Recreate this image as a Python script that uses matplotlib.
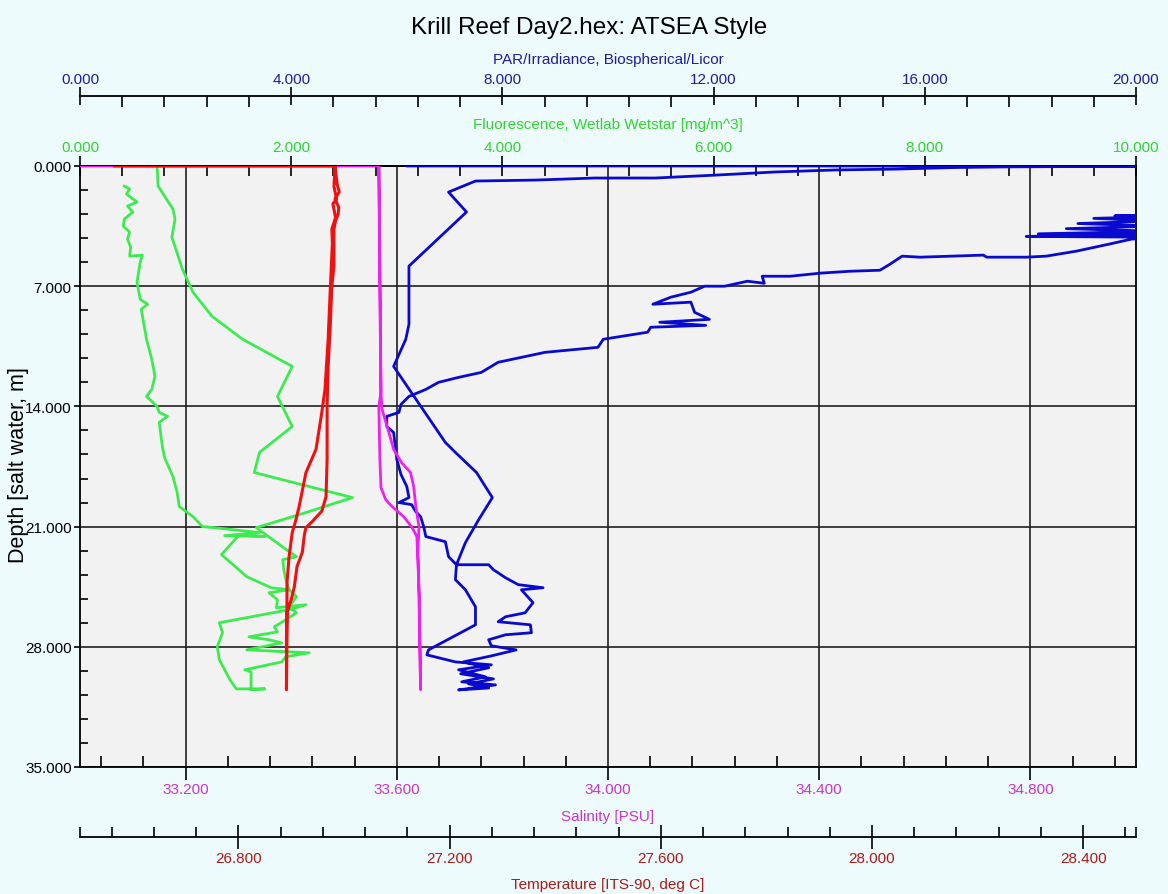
import numpy as np
import matplotlib
matplotlib.use('Agg')
import matplotlib.pyplot as plt
from matplotlib import font_manager
from matplotlib.ticker import FixedLocator, FormatStrFormatter

# ---- data (depth in m) ----
temp_depth = [0, 0, 1.05, 1.5, 1.93, 2.4, 2.8, 3.2, 3.67, 5.83, 7.0, 9.33, 11.67, 14.0, 17.09,
              19.25, 20.1, 20.7, 21.06, 21.47, 22.5, 23.33, 24.5, 25.26, 25.84, 26.0, 27.6,
              30.5, 27.6, 26.0, 24.27, 22.75, 21.35, 20.6, 19.83, 17.85, 16.5, 14.35, 13.0,
              10.1, 7.2, 4.5, 3.67, 3.0, 2.2, 1.93, 1.2, 0]
temp_vals = [26.566, 26.983, 26.987, 26.991, 26.983, 26.990, 26.989, 26.984, 26.981, 26.981,
             26.977, 26.974, 26.970, 26.968, 26.968, 26.966, 26.958, 26.940, 26.928, 26.925,
             26.921, 26.911, 26.906, 26.900, 26.894, 26.892, 26.891, 26.891, 26.892, 26.892,
             26.892, 26.896, 26.902, 26.909, 26.915, 26.928, 26.947, 26.958, 26.964, 26.970,
             26.974, 26.978, 26.977, 26.984, 26.979, 26.986, 26.981, 26.983]

sal_depth = [0, 0, 5.43, 13.18, 14.0, 17.09, 18.73, 19.43, 19.83, 20.42, 21.0, 21.58, 22.93,
             25.26, 30.5, 25.26, 22.5, 21.0, 19.83, 18.67, 17.85, 17.27, 16.5, 15.52, 14.17,
             13.18, 7.76, 0]
sal_vals = [33.0, 33.566, 33.568, 33.570, 33.566, 33.568, 33.570, 33.579, 33.591, 33.613,
            33.628, 33.638, 33.640, 33.643, 33.645, 33.642, 33.640, 33.642, 33.636, 33.632,
            33.626, 33.609, 33.594, 33.585, 33.572, 33.570, 33.568, 33.566]

fl_depth = [1.17, 1.34, 1.63, 2.1, 2.33, 2.68, 3.09, 3.5, 3.85, 4.26, 4.73, 5.25, 5.19, 5.6,
            6.77, 7.76, 8.05, 8.34, 10.09, 11.26, 12.25, 13.0, 13.42, 14.0, 14.35, 14.58, 14.93,
            16.33, 16.97, 18.08, 19.02, 19.83, 20.42, 21.0, 21.06, 21.35, 21.53, 21.58, 21.47,
            22.63, 23.92, 24.56, 24.68, 24.85, 25.26, 25.73, 25.55, 25.84, 26.6, 27.18, 28.0,
            28.76, 29.92, 30.45, 30.45,
            30.5, 29.46, 29.34, 28.88, 28.58, 28.35, 28.18, 27.77, 27.59, 27.42, 27.13, 26.83,
            26.54, 26.02, 25.67, 25.08, 24.68, 24.09, 23.51, 22.93, 22.75, 22.46, 21.06, 20.18,
            19.31, 17.85, 16.68, 15.17, 13.42, 11.67, 10.09, 8.75, 7.35, 6.01, 4.14, 3.09, 2.51,
            1.17, 0]
fl_vals = [0.42, 0.47, 0.44, 0.54, 0.45, 0.50, 0.42, 0.41, 0.47, 0.45, 0.48, 0.47, 0.59, 0.57,
           0.54, 0.57, 0.64, 0.58, 0.63, 0.68, 0.71, 0.68, 0.63, 0.73, 0.75, 0.83, 0.75, 0.78,
           0.80, 0.88, 0.92, 0.94, 1.07, 1.16, 1.27, 1.70, 1.37, 1.75, 1.51, 1.34, 1.58, 1.81,
           1.98, 1.79, 1.87, 1.86, 2.14, 1.98, 1.32, 1.35, 1.30, 1.32, 1.42, 1.48, 1.75,
           1.62, 1.62, 1.56, 1.91, 1.95, 2.17, 1.58, 1.91, 1.79, 1.60, 1.87, 1.84, 1.92, 2.05,
           1.98, 2.05, 1.98, 1.95, 1.93, 1.92, 2.05, 1.98, 1.67, 2.14, 2.58, 1.65, 1.70, 2.01,
           1.87, 2.01, 1.54, 1.25, 1.07, 0.97, 0.87, 0.90, 0.88, 0.74, 0.73]

par_depth = [0, 0.05, 0.09, 0.18, 0.23, 0.35, 0.53, 0.70, 0.70, 0.82, 0.875, 1.52, 2.68, 5.83,
             9.22, 10.09, 11.67, 16.1, 16.68, 17.85, 19.31, 20.6, 21.93, 23.22, 24.09, 24.68,
             25.67, 26.72, 28.18, 28.47, 28.88, 29.05, 29.34, 29.75, 30.04, 30.22, 30.51,
             30.4, 30.16, 29.87, 29.57, 29.22, 28.88, 28.53, 28.18, 27.94, 27.59, 27.30, 27.18,
             26.72, 26.54, 26.25, 26.02, 25.43, 24.68, 24.56, 24.38, 23.98, 23.51, 23.22, 23.22,
             22.75, 21.88, 21.58, 21.0, 20.42, 20.13, 19.72, 19.6, 19.31, 18.67, 17.97, 17.09,
             15.52, 15.17, 14.58, 14.35, 13.88, 13.42, 13.01, 12.6, 12.31, 12.02, 11.43, 10.85,
             10.56, 10.09, 9.68, 9.39, 9.28, 9.1, 8.93, 8.52, 7.93, 8.05, 7.64, 7.35, 7.0, 7.0,
             6.71, 6.83, 6.42, 6.42, 6.24, 6.13, 6.07, 5.72, 5.25, 5.31, 5.19, 5.31, 5.31, 5.25,
             4.96, 4.55, 4.26, 4.15, 4.1, 4.0, 3.95, 3.8, 3.65, 3.5, 3.35, 3.2, 3.05, 2.95, 2.9,
             2.8, 0, 0]
par_vals = [21.0, 17.6, 16.55, 15.45, 14.32, 13.15, 12.04, 10.89, 9.75, 8.62, 7.49, 6.98, 7.32,
            6.23, 6.23, 6.17, 5.94, 6.92, 7.11, 7.51, 7.81, 7.55, 7.30, 7.13, 7.11, 7.30, 7.49,
            7.49, 6.60, 6.57, 7.11, 7.79, 7.17, 7.68, 7.23, 7.87, 7.17,
            7.74, 7.36, 7.83, 7.21, 7.74, 7.26, 7.79, 8.26, 7.79, 7.74, 8.06, 8.55, 8.53, 7.92,
            8.06, 8.43, 8.58, 8.36, 8.77, 8.30, 8.06, 7.83, 7.74, 7.13, 6.98, 6.92, 6.55, 6.51,
            6.45, 6.36, 6.28, 6.04, 6.23, 6.19, 6.08, 6.00, 5.94, 5.81, 5.81, 6.04, 6.08, 6.23,
            6.55, 6.79, 7.17, 7.60, 7.92, 8.81, 9.81, 9.91, 10.75, 10.81, 11.85, 10.98, 11.92,
            11.64, 11.57, 10.85, 11.19, 11.57, 11.83, 12.21, 12.64, 12.96, 12.92, 13.45, 14.02,
            14.58, 15.15, 15.34, 15.57, 15.91, 17.11, 17.17, 17.92, 18.30, 18.87, 19.49, 19.91,
            20.4, 17.92, 20.4, 18.15, 20.4, 18.68, 20.4, 18.9, 20.4, 19.2, 20.4, 19.6, 21.0,
            21.0, 6.2]

sal_major = [33.2, 33.6, 34.0, 34.4, 34.8]
temp_major = [26.8, 27.2, 27.6, 28.0, 28.4]
depth_major = [0, 7, 14, 21, 28, 35]


def pick_font(names, default):
    for n in names:
        try:
            font_manager.findfont(n, fallback_to_default=False)
            return n
        except ValueError:
            pass
    return default


NARROW = pick_font(['Liberation Sans Narrow', 'Arial Narrow'], None)
REGULAR = pick_font(['Liberation Sans', 'Arial'], 'DejaVu Sans')
if NARROW is None:
    NARROW, FS, TS = REGULAR, 11, 17.5
else:
    FS, TS = 12, 20
plt.rcParams['font.family'] = [NARROW, 'DejaVu Sans']

BG = '#EEFBFC'
PAR_C = '#1C1CA8'
FL_C = '#2FD62F'
SAL_C = '#CC33CC'
TMP_C = '#B01818'

fig = plt.figure(figsize=(11.68, 8.95), dpi=100, facecolor=BG)
ax = fig.add_axes([80 / 1168, 1 - 768 / 895, 1056 / 1168, 601 / 895])
ax.set_facecolor('#F2F2F2')
ax.set_xlim(33.0, 35.0)
ax.set_ylim(35, 0)

ax_f = ax.twiny()   # fluorescence, top
ax_p = ax.twiny()   # PAR, top, offset
ax_s = ax.twiny()   # salinity line only (keeps it above blue)
ax_t = ax.twiny()   # temperature, bottom, offset

for a in (ax_f, ax_p, ax_s, ax_t):
    for sp in a.spines.values():
        sp.set_visible(False)

for sp in ax.spines.values():
    sp.set_linewidth(1.3)
    sp.set_color('black')

# grid + salinity / depth axis
ax.grid(True, which='major', color='#202020', linewidth=1.2)
ax.set_axisbelow(True)
ax.xaxis.set_major_locator(FixedLocator(sal_major))
ax.xaxis.set_minor_locator(FixedLocator(np.round(np.arange(33.04, 35.0, 0.08), 3)))
ax.xaxis.set_major_formatter(FormatStrFormatter('%.3f'))
ax.yaxis.set_major_locator(FixedLocator(depth_major))
ax.yaxis.set_minor_locator(FixedLocator(np.round(np.arange(0, 35.01, 1.4), 2)))
ax.yaxis.set_major_formatter(FormatStrFormatter('%.3f'))
ax.tick_params(axis='x', which='major', direction='out', length=9, width=1.2, pad=1.5,
               labelsize=FS, labelcolor=SAL_C)
ax.tick_params(axis='x', which='minor', direction='in', length=8, width=1.2)
ax.tick_params(axis='y', which='major', direction='out', length=4, width=1.2, pad=2,
               labelsize=FS, labelcolor='black')
ax.tick_params(axis='y', which='minor', direction='in', length=6, width=1.2)
ax.set_xlabel('Salinity [PSU]', color=SAL_C, fontsize=FS, va='center')
ax.xaxis.set_label_coords(0.5, -0.0815)
ax.set_ylabel('Depth [salt water, m]', fontsize=15.5, family=REGULAR, va='center')
ax.yaxis.set_label_coords(-0.0587, 0.504)

# fluorescence axis on plot top
ax_f.set_xlim(0, 10)
ax_f.spines['top'].set_visible(True)
ax_f.spines['top'].set_linewidth(1.3)
ax_f.xaxis.set_major_locator(FixedLocator([0, 2, 4, 6, 8, 10]))
ax_f.xaxis.set_minor_locator(FixedLocator(np.round(np.arange(0, 10.01, 0.4), 2)))
ax_f.xaxis.set_major_formatter(FormatStrFormatter('%.3f'))
ax_f.tick_params(axis='x', which='major', direction='inout', length=15, width=1.2, pad=1.5,
                 labelsize=FS, labelcolor=FL_C)
ax_f.tick_params(axis='x', which='minor', direction='in', length=7, width=1.2)
ax_f.set_xlabel('Fluorescence, Wetlab Wetstar [mg/m^3]', color=FL_C, fontsize=FS, va='center')
ax_f.xaxis.set_label_coords(0.5, 1.07)

# PAR axis above
ax_p.set_xlim(0, 20)
ax_p.spines['top'].set_visible(True)
ax_p.spines['top'].set_linewidth(1.3)
ax_p.spines['top'].set_position(('outward', 50.4))
ax_p.xaxis.set_major_locator(FixedLocator([0, 4, 8, 12, 16, 20]))
ax_p.xaxis.set_minor_locator(FixedLocator(np.round(np.arange(0, 20.01, 0.8), 2)))
ax_p.xaxis.set_major_formatter(FormatStrFormatter('%.3f'))
ax_p.tick_params(axis='x', which='major', direction='inout', length=13, width=1.2, pad=1,
                 labelsize=FS, labelcolor=PAR_C)
ax_p.tick_params(axis='x', which='minor', direction='in', length=8, width=1.2)
ax_p.set_xlabel('PAR/Irradiance, Biospherical/Licor', color=PAR_C, fontsize=FS, va='center')
ax_p.xaxis.set_label_coords(0.5, 1.178)

# salinity twin: same scale, no axis drawn
ax_s.set_xlim(33.0, 35.0)
ax_s.xaxis.set_visible(False)

# temperature axis below
ax_t.set_xlim(26.5, 28.5)
ax_t.xaxis.set_ticks_position('bottom')
ax_t.xaxis.set_label_position('bottom')
ax_t.spines['bottom'].set_visible(True)
ax_t.spines['bottom'].set_linewidth(1.3)
ax_t.spines['bottom'].set_position(('outward', 50.4))
ax_t.xaxis.set_major_locator(FixedLocator(temp_major))
t_minor = list(np.round(np.arange(26.56, 28.49, 0.08), 3)) + [26.5, 28.5]
ax_t.xaxis.set_minor_locator(FixedLocator(t_minor))
ax_t.xaxis.set_major_formatter(FormatStrFormatter('%.3f'))
ax_t.tick_params(axis='x', which='major', direction='inout', length=17, width=1.2, pad=1.5,
                 labelsize=FS, labelcolor=TMP_C)
ax_t.tick_params(axis='x', which='minor', direction='in', length=7, width=1.2)
ax_t.set_xlabel('Temperature [ITS-90, deg C]', color=TMP_C, fontsize=FS, va='center')
ax_t.xaxis.set_label_coords(0.5, -0.1947)

# profiles
ax_f.plot(fl_vals, fl_depth, color='#3DEB50', linewidth=2.0)
ax_p.plot(par_vals, par_depth, color='#0A0ACF', linewidth=2.0)
ax_s.plot(sal_vals, sal_depth, color='#EE22EE', linewidth=2.0)
ax_t.plot(temp_vals, temp_depth, color='#EE1111', linewidth=2.2)
ax_s.set_ylim(35, 0)

fig.suptitle('Krill Reef Day2.hex: ATSEA Style', x=0.504, y=1 - 28 / 895, va='center',
             fontsize=TS)

fig.savefig('out.png', dpi=100, facecolor=fig.get_facecolor())
